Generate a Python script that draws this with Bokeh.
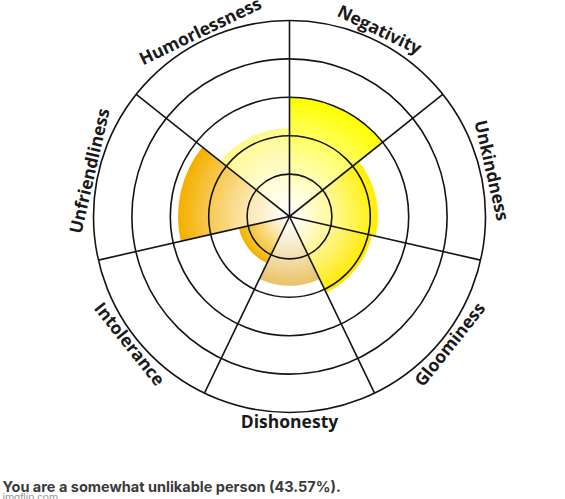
import math
from bokeh.plotting import figure
from bokeh.models import Range1d
from bokeh.core.properties import value
from bokeh.embed import file_html
from bokeh.resources import INLINE

# ---- data ----
categories = ["Negativity", "Unkindness", "Gloominess", "Dishonesty",
              "Intolerance", "Unfriendliness", "Humorlessness"]
scores = [60, 44, 42, 34, 25, 56, 44]          # percent of the outer ring
colors = ["#FFFF00", "#FFF000", "#FFE900", "#E8C468",
          "#F2B300", "#F5B000", "#FFF98C"]
ring_levels = [20, 40, 60, 80, 100]
summary = "You are a somewhat unlikable person (43.57%)."
watermark = "imgflip.com"

# ---- layout (pixels) ----
W, H = 565, 499
CX, CY = 289, 216            # chart centre, from figure's top-left
R_OUT = 196.0
R0 = 4.0


def rad(pct):
    return R0 + (R_OUT - R0) * pct / 100.0


p = figure(width=W, height=H, output_backend="svg", toolbar_location=None,
           x_range=Range1d(-CX, W - CX), y_range=Range1d(-(H - CY), CY),
           min_border=0)
p.axis.visible = False
p.grid.visible = False
p.outline_line_color = None
p.background_fill_color = "white"
p.border_fill_color = "white"

n = len(categories)
step = 2 * math.pi / n
top = math.pi / 2


def hex2rgb(h):
    h = h.lstrip("#")
    return tuple(int(h[i:i + 2], 16) for i in (0, 2, 4))


# ---- gradient filled sectors ----
NSTEP = 40
for k, (s, c) in enumerate(zip(scores, colors)):
    end = top - k * step
    start = end - step
    rr = rad(s)
    cr, cg, cb = hex2rgb(c)
    xs, ys, radii, fills, starts, ends = [], [], [], [], [], []
    for i in range(NSTEP, 0, -1):
        t = i / NSTEP
        f = t ** 1.25
        col = "#%02x%02x%02x" % (round(255 + (cr - 255) * f),
                                 round(255 + (cg - 255) * f),
                                 round(255 + (cb - 255) * f))
        xs.append(0); ys.append(0); radii.append(rr * t)
        fills.append(col); starts.append(start); ends.append(end)
    p.wedge(x=xs, y=ys, radius=radii, start_angle=starts, end_angle=ends,
            fill_color=fills, line_color=None)

# ---- rings ----
for lv in ring_levels:
    p.circle(x=0, y=0, radius=rad(lv), fill_color=None,
             line_color="#151515", line_width=1.6)

# ---- spokes ----
sx0, sy0, sx1, sy1 = [], [], [], []
for k in range(n):
    a = top - k * step
    sx0.append(0); sy0.append(0)
    sx1.append(R_OUT * math.cos(a)); sy1.append(R_OUT * math.sin(a))
p.segment(x0=sx0, y0=sy0, x1=sx1, y1=sy1, line_color="#151515", line_width=1.6)

# ---- labels around the rim ----
FS = 17.5
for k, name in enumerate(categories):
    m = top - (k + 0.5) * step
    w_est = len(name) * FS * 0.56
    if math.sin(m) > -0.05:
        r = R_OUT + 14.5
        ang = m - math.pi / 2
    else:
        r = R_OUT + 10.5
        ang = m + math.pi / 2
    r -= w_est ** 2 / (20 * r)
    p.text(x=[r * math.cos(m)], y=[r * math.sin(m)], text=[name], angle=ang,
           text_align="center", text_baseline="middle",
           text_font=value("Open Sans"), text_font_style="bold",
           text_font_size="%.1fpx" % FS, text_color="#1a1a1a")

# ---- bottom texts ----
p.text(x=[-CX + 2], y=[CY - 486], text=[summary], text_align="left",
       text_baseline="alphabetic", text_font=value("Inter"),
       text_font_style="bold", text_font_size="14.5px", text_color="#3a3a3a")
p.text(x=[-CX + 2], y=[CY - 496], text=[watermark], text_align="left",
       text_baseline="alphabetic", text_font=value("Liberation Sans"),
       text_font_size="11px", text_color="#9a9a9a")

open("out.html", "w").write(file_html(p, INLINE))
